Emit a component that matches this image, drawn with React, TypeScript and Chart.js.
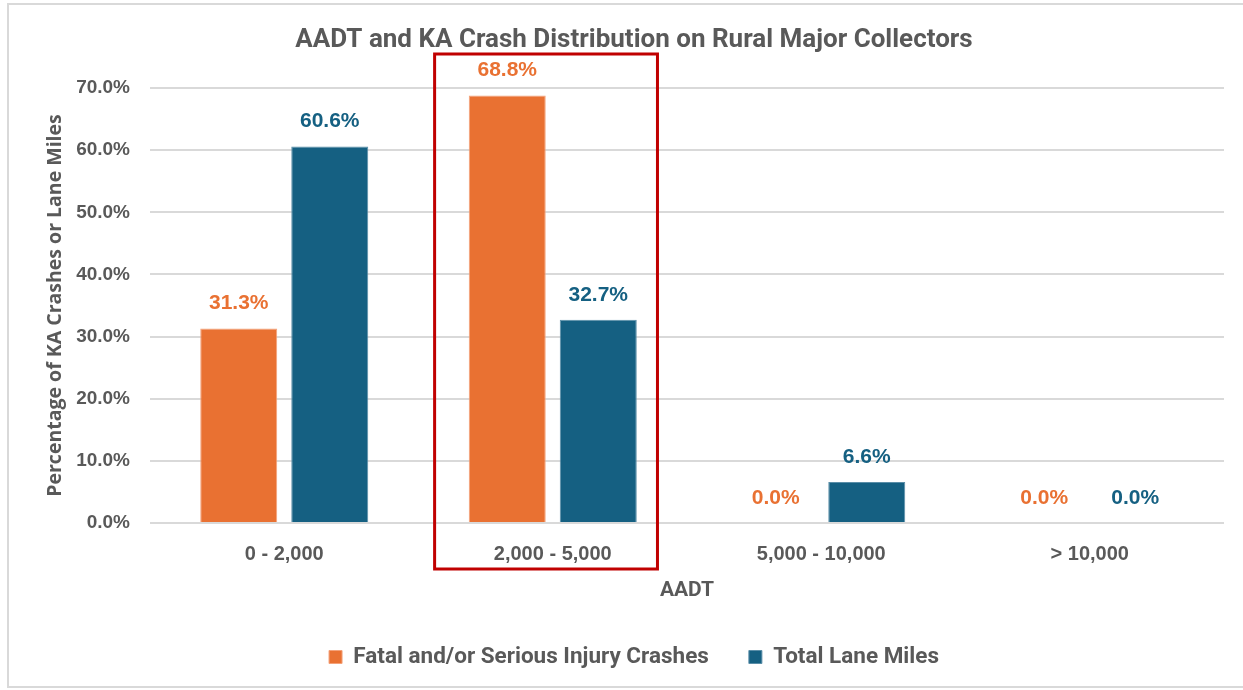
import React, { useEffect, useRef } from "react";
import { Chart, registerables } from "chart.js";

Chart.register(...registerables);

const categories = ["0 - 2,000", "2,000 - 5,000", "5,000 - 10,000", "> 10,000"];
const crashShare = [31.3, 68.8, 0.0, 0.0];
const laneMilesShare = [60.6, 32.7, 6.6, 0.0];
const seriesNames = ["Fatal and/or Serious Injury Crashes", "Total Lane Miles"];
const seriesColors = ["#E97132", "#156082"];
const yTicks = [0, 10, 20, 30, 40, 50, 60, 70];

const TEXT = "#595959";
const GRID = "#D9D9D9";

const dataLabels = {
  id: "dataLabels",
  afterDatasetsDraw(chart: any) {
    const ctx = chart.ctx;
    ctx.save();
    ctx.font = "bold 21px 'Liberation Sans', Arial, sans-serif";
    ctx.textAlign = "center";
    ctx.textBaseline = "middle";
    chart.data.datasets.forEach((ds: any, di: number) => {
      const meta = chart.getDatasetMeta(di);
      ctx.fillStyle = seriesColors[di];
      meta.data.forEach((bar: any, i: number) => {
        const v = ds.data[i] as number;
        ctx.fillText(v.toFixed(1) + "%", bar.x, bar.y - 25);
      });
    });
    ctx.restore();
  },
};

const highlightBox = {
  id: "highlightBox",
  afterDraw(chart: any) {
    const xs = chart.scales.x;
    const ctx = chart.ctx;
    const cw = (xs.right - xs.left) / categories.length;
    const cx = xs.getPixelForValue(1);
    const left = cx - cw * 0.44;
    const right = cx + cw * 0.39;
    ctx.save();
    ctx.strokeStyle = "#C00000";
    ctx.lineWidth = 3;
    ctx.strokeRect(left, 54, right - left, 515);
    ctx.restore();
  },
};

export default function App() {
  const ref = useRef<HTMLCanvasElement | null>(null);
  useEffect(() => {
    if (!ref.current) return;
    const chart = new Chart(ref.current, {
      type: "bar",
      data: {
        labels: categories,
        datasets: [
          {
            label: seriesNames[0],
            data: crashShare,
            backgroundColor: seriesColors[0],
            borderColor: "#F4A27A",
            borderWidth: 1,
            categoryPercentage: 0.678,
            barPercentage: 0.846,
          },
          {
            label: seriesNames[1],
            data: laneMilesShare,
            backgroundColor: seriesColors[1],
            borderColor: "#5A8EA8",
            borderWidth: 1,
            categoryPercentage: 0.678,
            barPercentage: 0.846,
          },
        ],
      },
      options: {
        responsive: false,
        animation: false,
        layout: { padding: { left: 44, right: 19, top: 0, bottom: 11.75 } },
        plugins: {
          title: {
            display: true,
            text: "AADT and KA Crash Distribution on Rural Major Collectors",
            color: TEXT,
            font: { family: "'Liberation Sans Narrow', 'Roboto', sans-serif", size: 26, weight: "bold" },
            padding: { top: 24.4, bottom: 32.4 },
          },
          legend: {
            position: "bottom",
            labels: {
              color: TEXT,
              font: { family: "'Liberation Sans Narrow', 'Roboto', sans-serif", size: 22.5, weight: "bold" },
              boxWidth: 13,
              boxHeight: 13,
              padding: 40,
            },
          },
          tooltip: { enabled: false },
        },
        scales: {
          x: {
            grid: { display: false, drawTicks: false },
            border: { display: false },
            ticks: {
              color: TEXT,
              font: { family: "'Liberation Sans', Arial, sans-serif", size: 20, weight: "bold" },
              padding: 19,
              maxRotation: 0,
            },
            title: {
              display: true,
              text: "AADT",
              color: TEXT,
              font: { family: "'Liberation Sans Narrow', 'Roboto', sans-serif", size: 21, weight: "bold" },
              padding: { top: 0, bottom: 2 },
            },
            afterFit(scale: any) {
              scale.height = 82.75;
            },
          },
          y: {
            min: 0,
            max: 70,
            afterBuildTicks(scale: any) {
              scale.ticks = yTicks.map((v) => ({ value: v }));
            },
            grid: { color: GRID, lineWidth: 2, drawTicks: false },
            border: { display: false },
            ticks: {
              color: TEXT,
              font: { family: "'Liberation Sans', Arial, sans-serif", size: 19, weight: "bold" },
              padding: 20,
              callback: (v: any) => Number(v).toFixed(1) + "%",
            },
            title: {
              display: true,
              text: "Percentage of KA Crashes or Lane Miles",
              color: TEXT,
              font: { family: "'Open Sans', sans-serif", size: 19.5, weight: "bold" },
              padding: { top: 0, bottom: 0 },
            },
            afterFit(scale: any) {
              scale.width = 106;
            },
          },
        },
      },
      plugins: [dataLabels, highlightBox],
    });
    return () => chart.destroy();
  }, []);

  return (
    <>
      <div
        style={{
          position: "absolute",
          left: 7,
          top: 3,
          width: 1300,
          height: 685,
          border: "2px solid #D9D9D9",
          boxSizing: "border-box",
        }}
      />
      <div style={{ position: "absolute", left: 0, top: 0, width: 1243, height: 690 }}>
        <canvas ref={ref} width={1243} height={690} style={{ display: "block" }} />
      </div>
    </>
  );
}
